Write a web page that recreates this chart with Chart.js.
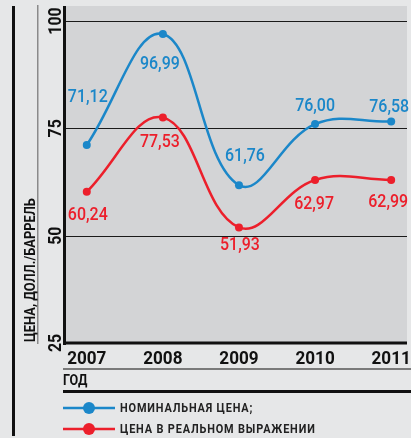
<!DOCTYPE html>
<html>
<head>
<meta charset="utf-8">
<script src="https://cdn.jsdelivr.net/npm/chart.js@4/dist/chart.umd.min.js"></script>
<style>
  html, body { margin: 0; padding: 0; background: #e6e7e8; }
  #wrap { width: 411px; height: 438px; position: relative; }
</style>
</head>
<body>
<div id="wrap"><canvas id="chart"></canvas></div>
<script>
// data
const years = [2007, 2008, 2009, 2010, 2011];
const nominalPrice = [71.12, 96.99, 61.76, 76.00, 76.58];
const realPrice = [60.24, 77.53, 51.93, 62.97, 62.99];
const yTicks = [25, 50, 75, 100];
const seriesNames = ["НОМИНАЛЬНАЯ ЦЕНА;", "ЦЕНА В РЕАЛЬНОМ ВЫРАЖЕНИИ"];
const yTitle = "ЦЕНА, ДОЛЛ./БАРРЕЛЬ";
const xTitle = "ГОД";

const BLUE = "#1b87c9";
const RED = "#ec1f2b";
const FONT = "Roboto, 'Liberation Sans', sans-serif";

// where each value label sits relative to its point (dx, dy)
const labelShift = {
  nominal: [[1, -48], [-3, 30], [6, -29], [0, -18], [-2, -14]],
  real: [[1, 24], [-3, 25], [1, 18], [-1, 24], [-3, 22]],
};

const fmt = (v) => v.toFixed(2).replace(".", ",");

// fake a condensed face by squeezing along the text direction
function squeezed(ctx, text, x, y, sx, rot = 0) {
  ctx.save();
  ctx.translate(x, y);
  if (rot) ctx.rotate(rot);
  ctx.scale(sx, 1);
  ctx.fillText(text, 0, 0);
  ctx.restore();
}

const decor = {
  id: "decor",
  beforeDraw(chart) {
    const { ctx, chartArea: a, scales } = chart;
    const y = scales.y;
    ctx.save();
    ctx.fillStyle = "#e6e7e8";
    ctx.fillRect(0, 0, chart.width, chart.height);
    ctx.fillStyle = "#d3d4d6";
    ctx.fillRect(a.left, a.top, a.right - a.left, a.bottom - a.top);
    // gridlines
    ctx.strokeStyle = "#1a1a1a";
    ctx.lineWidth = 1;
    yTicks.slice(1).forEach((t) => {
      const py = Math.round(y.getPixelForValue(t)) + 0.5;
      ctx.beginPath();
      ctx.moveTo(a.left, py);
      ctx.lineTo(a.right, py);
      ctx.stroke();
    });
    ctx.restore();
  },
  afterDatasetsDraw(chart) {
    const { ctx, chartArea: a, scales } = chart;
    const x = scales.x;
    const y = scales.y;
    ctx.save();

    // axes
    ctx.fillStyle = "#111";
    ctx.fillRect(a.left - 3, a.top, 3, a.bottom - a.top + 2);
    ctx.fillRect(a.left - 3, y.getPixelForValue(25) - 1.5, a.right - a.left + 3, 3);

    // far-left rules
    ctx.fillRect(12, 6, 3, 430);
    ctx.fillStyle = "#8a8a8a";
    ctx.fillRect(37, 5, 1.5, 339);

    // y tick labels, rotated
    ctx.fillStyle = "#111";
    ctx.font = "bold 18px " + FONT;
    ctx.textAlign = "center";
    ctx.textBaseline = "middle";
    yTicks.forEach((t) => {
      squeezed(ctx, String(t), 56, y.getPixelForValue(t), 0.88, -Math.PI / 2);
    });

    // y title
    ctx.textAlign = "left";
    ctx.font = "bold 14px " + FONT;
    squeezed(ctx, yTitle, 31, 342, 0.92, -Math.PI / 2);

    // x tick labels
    ctx.font = "bold 18px " + FONT;
    ctx.textAlign = "center";
    years.forEach((yr) => {
      squeezed(ctx, String(yr), x.getPixelForValue(yr), 359, 0.95);
    });

    // year caption rules
    ctx.fillStyle = "#7a7a7a";
    ctx.fillRect(63, 368, chart.width - 63, 2);
    ctx.fillStyle = "#111";
    ctx.fillRect(63, 390, chart.width - 63, 3);
    ctx.textAlign = "left";
    ctx.font = "bold 14px " + FONT;
    squeezed(ctx, xTitle, 63, 381, 0.9);

    // value labels
    ctx.font = "500 19px " + FONT;
    ctx.textAlign = "center";
    chart.data.datasets.forEach((ds, di) => {
      const meta = chart.getDatasetMeta(di);
      const shifts = labelShift[ds.key];
      ctx.fillStyle = ds.borderColor;
      meta.data.forEach((pt, i) => {
        squeezed(ctx, fmt(ds.data[i].y), pt.x + shifts[i][0], pt.y + shifts[i][1], 0.84);
      });
    });

    // legend
    const rows = [408, 429];
    ctx.textAlign = "left";
    chart.data.datasets.forEach((ds, di) => {
      const ly = rows[di];
      ctx.strokeStyle = ds.borderColor;
      ctx.lineWidth = 2.5;
      ctx.beginPath();
      ctx.moveTo(63, ly);
      ctx.lineTo(115, ly);
      ctx.stroke();
      ctx.fillStyle = ds.borderColor;
      ctx.beginPath();
      ctx.arc(89, ly, 6, 0, Math.PI * 2);
      ctx.fill();
      ctx.fillStyle = "#222";
      ctx.font = "bold 13px " + FONT;
      ctx.letterSpacing = "1px";
      squeezed(ctx, seriesNames[di], 120, ly + 1, 0.84);
      ctx.letterSpacing = "0px";
    });

    ctx.restore();
  },
};

function series(values, color, key) {
  return {
    key,
    data: years.map((yr, i) => ({ x: yr, y: values[i] })),
    borderColor: color,
    backgroundColor: color,
    pointBackgroundColor: color,
    pointBorderWidth: 0,
    pointRadius: 4,
    borderWidth: 2.5,
    tension: 0.4,
    fill: false,
  };
}

new Chart(document.getElementById("chart"), {
  type: "line",
  data: {
    datasets: [
      series(nominalPrice, BLUE, "nominal"),
      series(realPrice, RED, "real"),
    ],
  },
  options: {
    responsive: true,
    maintainAspectRatio: false,
    animation: false,
    devicePixelRatio: 1,
    layout: { padding: { left: 66, top: 6, right: 0, bottom: 95 } },
    plugins: { legend: { display: false }, tooltip: { enabled: false } },
    scales: {
      x: { type: "linear", display: false, min: 2006.727, max: 2011.208 },
      y: { display: false, min: 25, max: 103.5 },
    },
  },
  plugins: [decor],
});
</script>
</body>
</html>
